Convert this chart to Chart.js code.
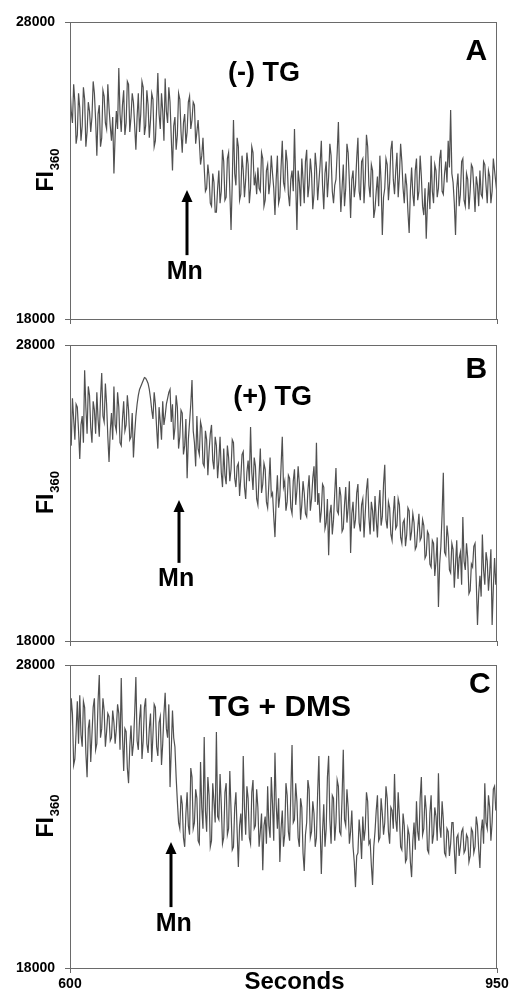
<!DOCTYPE html>
<html>
<head>
<meta charset="utf-8">
<script src="https://cdn.jsdelivr.net/npm/chart.js@4.4.1/dist/chart.umd.min.js"></script>
<style>
  html, body { margin: 0; padding: 0; background: #fff; }
  body { width: 513px; height: 998px; position: relative; overflow: hidden; }
  .panel { position: absolute; left: 0; }
  canvas { display: block; }
</style>
</head>
<body>
<div class="panel" style="top:0px"><canvas id="chartA" width="513" height="332"></canvas></div>
<div class="panel" style="top:332px"><canvas id="chartB" width="513" height="322"></canvas></div>
<div class="panel" style="top:654px"><canvas id="chartC" width="513" height="344"></canvas></div>
<script>
// ==========================================
// DATA
// ==========================================

// time axis, one reading per second from 600 to 950
const seconds = [];
for (let t = 600; t <= 950; t++) seconds.push(t);

const xTicks = [600, 950];
const yTicks = [18000, 28000];

// A: (-) TG
const tgMinus = [
    25800, 25000, 24600, 25900, 25300, 23900, 24200, 25600, 25100, 24000,
    24500, 25800, 25400, 23800, 24300, 25300, 25000, 24300, 24800, 26000,
    25600, 24700, 23500, 24900, 25200, 23800, 24100, 25700, 25500, 24600,
    24400, 25900, 25100, 24500, 24000, 24800, 22900, 24200, 25000, 24400,
    26450, 24900, 24300, 25200, 25700, 24200, 24600, 26000, 25900, 24300,
    24800, 25600, 25300, 24500, 23700, 24800, 25600, 24300, 24900, 26000,
    25800, 24200, 24500, 25700, 25200, 24100, 24700, 25600, 25400, 23800,
    24000, 25100, 26280, 24900, 24400, 25600, 25000, 24000, 26100, 25000,
    24600, 25800, 25300, 24100, 23000, 24500, 24800, 23700, 24200, 25600,
    25400, 24300, 23600, 24600, 24900, 23900, 24300, 25300, 25500, 24400,
    24700, 25300, 25200, 23900, 24300, 24700, 24000, 23200, 23500, 24100,
    23100, 22300, 22400, 23200, 22800, 21900, 21800, 22900, 22600, 21600,
    21600, 22400, 23000, 21900, 22300, 23700, 23300, 22000, 22100, 23400,
    23600, 22300, 21000, 22600, 24700, 22900, 22500, 24100, 23800, 22000,
    22200, 23500, 23000, 22100, 22700, 23600, 23200, 21900, 22400, 23800,
    23600, 22500, 22800, 22200, 23100, 22400, 22300, 23600, 23400, 21800,
    22000, 23000, 23200, 22200, 22600, 23500, 22900, 22400, 21500, 22700,
    23500, 21900, 22100, 23100, 24000, 22600, 22400, 23700, 23300, 22200,
    21800, 22700, 23000, 22300, 24400, 22600, 21000, 23000, 22600, 21800,
    23400, 22700, 21900, 23300, 23700, 22100, 22500, 23400, 22900, 21700,
    22200, 23600, 23100, 22000, 22600, 23200, 24000, 22500, 21700, 22900,
    23300, 22100, 22800, 23900, 23500, 22300, 21900, 22500, 22700, 23600,
    24630, 22800, 21600, 22400, 23200, 21800, 22400, 23900, 23600, 22600,
    21400, 22700, 23000, 22100, 22500, 23400, 24100, 22300, 22000, 23300,
    23400, 21900, 22700, 24200, 23800, 22500, 22100, 23200, 23000, 21400,
    21700, 22300, 22800, 21800, 23500, 22600, 20830, 22100, 22400, 23400,
    23200, 22000, 22600, 23700, 24000, 22700, 22200, 23000, 23600, 22100,
    22800, 23900, 23300, 22400, 21900, 22900, 22500, 21600, 20900, 22300,
    23100, 22200, 21800, 23000, 23400, 22000, 22300, 23500, 22800, 21800,
    21500, 22400, 20700, 21900, 22600, 21700, 23500, 22300, 21900, 23200,
    23000, 22100, 22400, 23400, 23700, 22300, 22200, 22900, 23300, 22600,
    24000, 23100, 25040, 22900, 22600, 21900, 20830, 22400, 22900, 21800,
    22200, 23300, 23400, 22000, 21800, 22900, 22700, 21700, 22300, 23200,
    23100, 22400, 21600, 22800, 22500, 21800, 23000, 22200, 22100, 23300,
    23200, 22500, 21900, 23000, 22800, 21900, 22300, 23400, 23000, 22600,
    22200
];

// B: (+) TG
const tgPlus = [
    25300, 24600, 26200, 25500, 24800, 26000, 25900, 25100, 24150, 25300,
    25600, 24700, 27150, 25900, 25000, 26600, 26300, 25200, 24700, 26100,
    25800, 25000, 26400, 25500, 24900, 26200, 27050, 25600, 25400, 26700,
    26000, 24900, 24050, 25100, 25700, 24800, 26600, 25300, 25100, 26400,
    25900, 24700, 24600, 25500, 26100, 25100, 25300, 26300, 25800, 24800,
    24900, 25700, 24200, 25000, 25600, 26000, 26300, 26500, 26600, 26700,
    26800, 26900, 26880, 26800, 26700, 26500, 26200, 25800, 25500, 26400,
    26000, 25200, 24500, 25900, 25400, 24800, 26100, 25300, 25600, 26000,
    26200, 26400, 26500, 25400, 26000, 24800, 25200, 26300, 25900, 24500,
    24900, 25800, 25700, 24300, 24600, 25500, 23500, 24800, 25400, 26000,
    26820, 25100, 24700, 23900, 25600, 24500, 24300, 25400, 25200, 24000,
    23900, 25100, 24800, 23600, 24400, 25000, 25300, 24100, 23800, 24900,
    24600, 23500, 24100, 24900, 23700, 23200, 24500, 23600, 23300, 24600,
    24200, 23400, 23800, 24800, 24700, 23500, 23200, 23900, 24000, 22900,
    23500, 24300, 24400, 23200, 22800, 23700, 24100, 23400, 25230, 23700,
    23100, 24200, 23900, 22800, 22600, 23600, 24500, 23000, 23300, 24000,
    23800, 22700, 22500, 23300, 24200, 22900, 23000, 22200, 21510, 22800,
    23600, 22500, 22900, 23900, 24900, 23200, 23400, 22400, 22700, 23600,
    23500, 22500, 22300, 23400, 23800, 22600, 23100, 23900, 23300, 22100,
    22600, 23400, 23000, 22300, 22200, 23100, 23600, 22400, 22800, 23500,
    23900, 22700, 24700, 22600, 23000, 22000, 22400, 23300, 23200, 21800,
    22000, 22800, 20900, 22300, 22600, 21600, 22100, 23000, 23840, 22400,
    22300, 23200, 22900, 21700, 21800, 22600, 23200, 22000, 22500, 23400,
    20970, 22300, 22700, 21800, 22100, 23000, 23300, 22000, 21700, 22600,
    22800, 21500, 22300, 23100, 23500, 22200, 21600, 22700, 22400, 21700,
    22900, 22100, 21500, 22500, 23100, 21900, 22200, 23300, 23950, 22100,
    21800, 22700, 22500, 21600, 21400, 22300, 22900, 21800, 21900, 22800,
    22600, 21500, 21300, 22000, 22100, 21200, 21600, 22500, 22400, 21400,
    21700, 22300, 22000, 21100, 21200, 21800, 22300, 21400, 21500, 22100,
    21900, 20800, 20900, 21700, 21600, 20600, 20500, 21400, 21300, 20200,
    20700, 21500, 19150, 20600, 21200, 22300, 23680, 21000, 20900, 21900,
    21500, 20400, 20300, 21300, 21100, 19800, 20600, 21400, 20100, 20800,
    21000, 19900, 22190, 20700, 20400, 21300, 20800, 19600, 19700, 20600,
    20500, 21200, 21300, 20000, 18540, 19600, 20200, 19500, 21600, 20400,
    19900, 21000, 20700, 19700, 20300, 21100, 18540, 19800, 20800, 19900,
    20500
];

// C: TG + DMS
const tgDms = [
    25500, 26900, 26400, 24700, 24900, 25800, 26800, 25400, 27000, 25700,
    25300, 26800, 26600, 25100, 24300, 25900, 26200, 24800, 25700, 26600,
    26900, 25200, 25400, 26800, 27670, 25600, 25900, 26900, 26500, 25300,
    25800, 26400, 26300, 25500, 25600, 26500, 26100, 25400, 25900, 26700,
    26400, 25200, 27570, 25700, 24500, 25900, 25800, 24600, 24100, 25300,
    26000, 25000, 25400, 26400, 27600, 25500, 25200, 26200, 26700, 24900,
    25500, 26600, 26900, 25400, 25100, 25900, 26400, 24800, 25700, 26700,
    26600, 25300, 25000, 26100, 26300, 24700, 25400, 26400, 27080, 25900,
    25600, 26700, 23970, 25200, 26500, 25600, 25300, 24300, 23500, 22800,
    22600, 23700, 23400, 22300, 22000, 23100, 23800, 22700, 22400, 24600,
    24300, 22600, 22800, 23900, 23600, 22200, 22100, 24800, 23300, 22600,
    25620, 23200, 22500, 24300, 23700, 22000, 22200, 24100, 23500, 22800,
    25790, 23000, 22900, 24400, 23400, 22100, 22300, 23800, 24100, 22400,
    22600, 24500, 23200, 21900, 22000, 23300, 23800, 22500, 21330, 22700,
    23100, 22200, 25000, 23300, 22400, 24000, 23600, 22300, 22100, 23800,
    24200, 22600, 22700, 23900, 23300, 22000, 22500, 23100, 21230, 22700,
    23000, 22100, 24000, 22700, 22300, 24300, 23400, 22200, 25100, 23400,
    22600, 23600, 21500, 22600, 23200, 22000, 22400, 24100, 23700, 22500,
    22200, 23800, 25360, 22800, 22900, 24100, 23500, 22300, 22000, 23600,
    23300, 21800, 21200, 22400, 22800, 24200, 23900, 22300, 22500, 23500,
    23100, 22000, 22300, 23800, 25000, 22700, 21100, 22500, 23400, 22000,
    22600, 24300, 25000, 22900, 22100, 23700, 23600, 22200, 22800, 24200,
    24000, 22500, 22400, 23600, 25200, 22900, 22700, 23900, 23300, 22100,
    22500, 23200, 22000, 21500, 20670, 21700, 21800, 22900, 22400, 21600,
    23000, 22200, 22600, 23800, 23500, 22100, 22200, 21400, 20740, 22000,
    22500, 23200, 23700, 22200, 22300, 23600, 23100, 22400, 22800, 24000,
    23600, 22500, 22100, 23300, 23200, 22600, 24400, 22900, 22500, 23800,
    23000, 22000, 21900, 23100, 22700, 21500, 21600, 22600, 22400, 21500,
    21000, 22200, 22800, 21900, 23500, 22500, 22200, 23600, 24300, 22400,
    22600, 23700, 23200, 21900, 21800, 23100, 23700, 22100, 22400, 23300,
    23000, 22200, 24430, 22700, 22300, 23500, 22900, 21800, 21700, 22600,
    22500, 21700, 22100, 22800, 22800, 21900, 21100, 22300, 22400, 21700,
    22000, 22500, 22600, 21800, 21900, 22400, 22300, 21500, 21700, 22600,
    22500, 21800, 22000, 23000, 22700, 21900, 21300, 22500, 22900, 22100,
    24100, 22800, 22600, 23700, 23300, 22200, 22800, 23900, 24000, 23200,
    23600
];

// ==========================================
// STYLE
// ==========================================

const fontFamily = "'Liberation Sans', Arial, sans-serif";
const frameColor = '#6a6a6a';
const traceColor = '#505050';

Chart.defaults.font.family = fontFamily;
Chart.defaults.color = '#000';

// ==========================================
// ANNOTATIONS (letter, condition, Mn arrow, y title)
// ==========================================

function notesPlugin(notes) {
    return {
        id: 'panelNotes',
        afterDraw(chart) {
            const ctx = chart.ctx;
            const xs = chart.scales.x;
            const ys = chart.scales.y;
            const area = chart.chartArea;
            ctx.save();

            // box round the plot
            ctx.strokeStyle = frameColor;
            ctx.lineWidth = 1;
            ctx.strokeRect(area.left + 0.5, area.top + 0.5, area.right - area.left - 1, area.bottom - area.top);

            ctx.fillStyle = '#000';
            ctx.textAlign = 'center';
            ctx.textBaseline = 'middle';
            notes.texts.forEach(n => {
                ctx.font = `bold ${n.size}px ${fontFamily}`;
                ctx.fillText(n.text, xs.getPixelForValue(n.t), ys.getPixelForValue(n.v));
            });

            // arrow
            const ax = Math.round(xs.getPixelForValue(notes.arrow.t));
            const tipY = ys.getPixelForValue(notes.arrow.tip);
            const tailY = ys.getPixelForValue(notes.arrow.tail);
            ctx.strokeStyle = '#000';
            ctx.lineWidth = 3;
            ctx.beginPath();
            ctx.moveTo(ax, tailY);
            ctx.lineTo(ax, tipY + 8);
            ctx.stroke();
            ctx.beginPath();
            ctx.moveTo(ax, tipY);
            ctx.lineTo(ax - 5.5, tipY + 12);
            ctx.lineTo(ax + 5.5, tipY + 12);
            ctx.closePath();
            ctx.fill();

            // FI with subscript 360, rotated
            const midY = (area.top + area.bottom) / 2;
            ctx.translate(area.left - 17, midY);
            ctx.rotate(-Math.PI / 2);
            ctx.textAlign = 'left';
            ctx.textBaseline = 'alphabetic';
            ctx.font = `bold 23px ${fontFamily}`;
            const wMain = ctx.measureText('FI').width;
            ctx.font = `bold 13px ${fontFamily}`;
            const wSub = ctx.measureText('360').width;
            const x0 = -(wMain + wSub) / 2;
            ctx.font = `bold 23px ${fontFamily}`;
            ctx.fillText('FI', x0, 0);
            ctx.font = `bold 13px ${fontFamily}`;
            ctx.fillText('360', x0 + wMain + 1, 6);

            ctx.restore();
        }
    };
}

// ==========================================
// CHARTS
// ==========================================

function makePanel(canvasId, values, notes, opts) {
    const ctx = document.getElementById(canvasId).getContext('2d');
    return new Chart(ctx, {
        type: 'line',
        data: {
            labels: seconds,
            datasets: [{
                data: values,
                borderColor: traceColor,
                borderWidth: 1.2,
                pointRadius: 0,
                tension: 0,
                fill: false
            }]
        },
        options: {
            responsive: false,
            animation: false,
            events: [],
            layout: { padding: { top: opts.padTop, bottom: opts.padBottom, left: 0, right: 16 } },
            plugins: { legend: { display: false }, tooltip: { enabled: false } },
            scales: {
                x: {
                    type: 'linear',
                    min: xTicks[0],
                    max: xTicks[xTicks.length - 1],
                    afterBuildTicks: s => { s.ticks = xTicks.map(v => ({ value: v })); },
                    afterFit: s => {
                        s.height = opts.xHeight;
                        s.paddingLeft = 0;
                        s.paddingRight = 0;
                    },
                    grid: { drawOnChartArea: false, color: frameColor, tickLength: 5 },
                    border: { color: frameColor, width: 1 },
                    ticks: {
                        display: opts.showX,
                        padding: 3,
                        maxRotation: 0,
                        font: { size: 14, weight: 'bold' },
                        callback: v => String(v)
                    }
                },
                y: {
                    min: yTicks[0],
                    max: yTicks[yTicks.length - 1],
                    afterBuildTicks: s => { s.ticks = yTicks.map(v => ({ value: v })); },
                    afterFit: s => {
                        s.width = 70;
                        s.paddingTop = 0;
                        s.paddingBottom = 0;
                    },
                    grid: { drawOnChartArea: false, color: frameColor, tickLength: 5 },
                    border: { color: frameColor, width: 1 },
                    ticks: {
                        padding: 10,
                        font: { size: 14, weight: 'bold' },
                        callback: v => String(v)
                    }
                }
            }
        },
        plugins: [notesPlugin(notes)]
    });
}

makePanel('chartA', tgMinus, {
    texts: [
        { text: 'A', t: 933, v: 26990, size: 30 },
        { text: '(-) TG', t: 759, v: 26250, size: 27 },
        { text: 'Mn', t: 694, v: 19580, size: 25 }
    ],
    arrow: { t: 696, tip: 22340, tail: 20150 }
}, { padTop: 22, padBottom: 8, xHeight: 5, showX: false });

makePanel('chartB', tgPlus, {
    texts: [
        { text: 'B', t: 933, v: 27155, size: 30 },
        { text: '(+) TG', t: 766, v: 26240, size: 27 },
        { text: 'Mn', t: 687, v: 20100, size: 25 }
    ],
    arrow: { t: 689, tip: 22760, tail: 20640 }
}, { padTop: 13, padBottom: 8, xHeight: 5, showX: false });

makePanel('chartC', tgDms, {
    texts: [
        { text: 'C', t: 936, v: 27340, size: 30 },
        { text: 'TG + DMS', t: 772, v: 26580, size: 30 },
        { text: 'Mn', t: 685, v: 19450, size: 25 },
        { text: 'Seconds', t: 784, v: 17540, size: 24 }
    ],
    arrow: { t: 683, tip: 22160, tail: 20010 }
}, { padTop: 11, padBottom: 4, xHeight: 26, showX: true });
</script>
</body>
</html>
